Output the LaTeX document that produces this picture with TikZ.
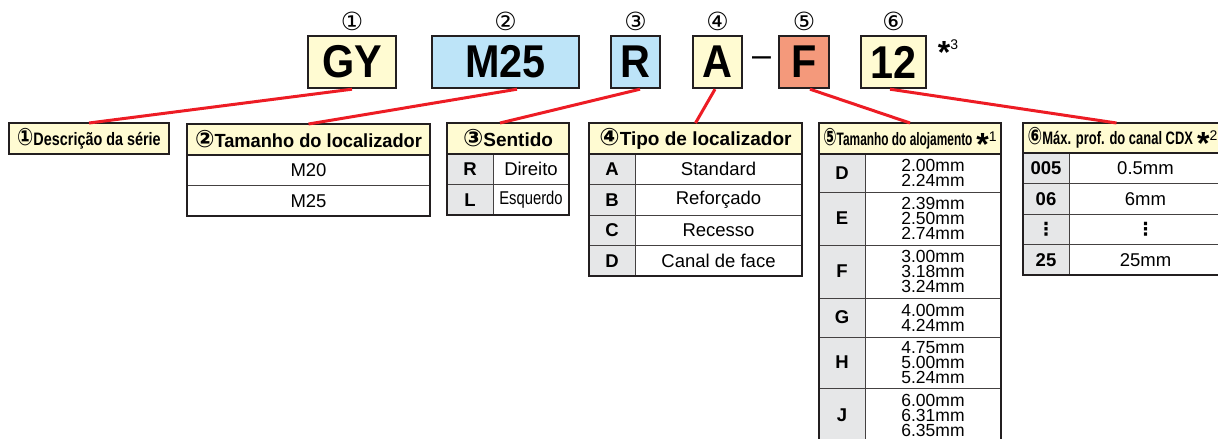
\documentclass[tikz,border=0pt]{standalone}
\usepackage{fontspec}
\usepackage{graphicx}
\setmainfont{Liberation Sans}
\newfontfamily\symfont{DejaVu Sans}
\usetikzlibrary{positioning}
\definecolor{pale}{HTML}{FFFBD2}
\definecolor{sky}{HTML}{BDE4F8}
\definecolor{salmon}{HTML}{F4997B}
\definecolor{keygray}{HTML}{E6E7E8}
\definecolor{ink}{HTML}{231F20}
\definecolor{leadred}{HTML}{ED1C24}
\newcommand{\squeeze}[2]{\scalebox{#1}[1]{#2}}
\newcommand{\circnum}[1]{{\symfont\fontsize{24}{19}\selectfont #1}}
\newcommand{\notemark}[1]{\raisebox{-10pt}[0pt][0pt]{\fontsize{32}{32}\selectfont\bfseries *}\raisebox{4pt}[0pt][0pt]{\fontsize{14}{14}\selectfont\mdseries #1}}
\tikzset{
  codebox/.style={draw=ink, line width=2.4pt, minimum height=52pt, inner sep=0pt, font=\fontsize{46}{46}\selectfont\bfseries},
  codenum/.style={inner sep=0pt, font=\symfont\fontsize{25}{25}\selectfont},
  headcell/.style={draw=ink, line width=1pt, fill=pale, minimum height=31pt, inner sep=0pt, outer sep=0pt, anchor=north west, font=\fontsize{19}{19}\selectfont\bfseries},
  keycell/.style={draw=ink!85, line width=1pt, fill=keygray, minimum width=46pt, minimum height=30.5pt, inner sep=0pt, outer sep=0pt, font=\fontsize{18.5}{18.5}\selectfont\bfseries},
  valcell/.style={draw=ink!85, line width=1pt, minimum height=30.5pt, inner sep=0pt, outer sep=0pt, align=center, font=\fontsize{18.5}{15}\selectfont},
  mmcell/.style={valcell, minimum width=136pt, font=\fontsize{17.5}{15}\selectfont},
  tabframe/.style={draw=ink, line width=2.2pt},
  headline/.style={draw=ink, line width=1.6pt},
  leader/.style={draw=leadred, line width=3pt}
}
\begin{document}
\begin{tikzpicture}[x=1pt, y=-1pt]
  \useasboundingbox (0,0) rectangle (1218,439);

  % part number
  \node[codebox, fill=pale, minimum width=88pt] (ser) at (352,62) {\squeeze{0.9}{GY}};
  \node[codebox, fill=sky, minimum width=147pt] (size) at (505.5,62) {\squeeze{0.9}{M25}};
  \node[codebox, fill=sky, minimum width=49pt] (dir) at (635.5,62) {\squeeze{0.9}{R}};
  \node[codebox, fill=pale, minimum width=49pt] (typ) at (717.5,62) {\squeeze{0.9}{A}};
  \node[font=\fontsize{34}{34}\selectfont] (dash) at (761.5,62) {–};
  \node[codebox, fill=salmon, minimum width=50pt] (hsg) at (804,62) {\squeeze{0.9}{F}};
  \node[codebox, fill=pale, minimum width=65pt] (dep) at (893.5,62) {\squeeze{0.9}{12}};
  \node[anchor=base, inner sep=0pt] (note3) at (948,53) {\notemark{3}};

  \node[codenum] (num1) [above=4pt of ser] {①};
  \node[codenum] (num2) [above=4pt of size] {②};
  \node[codenum] (num3) [above=4pt of dir] {③};
  \node[codenum] (num4) [above=4pt of typ] {④};
  \node[codenum] (num5) [above=4pt of hsg] {⑤};
  \node[codenum] (num6) [above=4pt of dep] {⑥};

  % 1 series
  \node[headcell, minimum width=160pt, font=\fontsize{18}{18}\selectfont\bfseries] (serhd) at (9,123) {\squeeze{0.8}{\circnum{①}Descrição da série}};
  \draw[tabframe] (serhd.north west) rectangle (serhd.south east);

  % 2 locator size
  \node[headcell, minimum width=243pt] (sizehd) at (187,124) {\squeeze{0.96}{\circnum{②}Tamanho do localizador}};
  \node[valcell, minimum width=243pt] (size20) [below=0pt of sizehd] {M20};
  \node[valcell, minimum width=243pt] (size25) [below=0pt of size20] {M25};
  \draw[tabframe] (sizehd.north west) rectangle (size25.south east);
  \draw[headline] (sizehd.south west) -- (sizehd.south east);

  % 3 direction
  \node[headcell, minimum width=122pt] (dirhd) at (447,123) {\circnum{③}Sentido};
  \node[keycell, anchor=north west] (dirR) at (dirhd.south west) {R};
  \node[valcell, minimum width=76pt] (dirRv) [right=0pt of dirR] {Direito};
  \node[keycell] (dirL) [below=0pt of dirR] {L};
  \node[valcell, minimum width=76pt] (dirLv) [right=0pt of dirL] {\squeeze{0.8}{Esquerdo}};
  \draw[tabframe] (dirhd.north west) rectangle (dirLv.south east);
  \draw[headline] (dirhd.south west) -- (dirhd.south east);

  % 4 locator type
  \node[headcell, minimum width=213pt] (typhd) at (589,123) {\circnum{④}Tipo de localizador};
  \node[keycell, anchor=north west] (typA) at (typhd.south west) {A};
  \node[valcell, minimum width=167pt] (typAv) [right=0pt of typA] {Standard};
  \node[keycell] (typB) [below=0pt of typA] {B};
  \node[valcell, minimum width=167pt] (typBv) [right=0pt of typB] {Reforçado};
  \node[keycell] (typC) [below=0pt of typB] {C};
  \node[valcell, minimum width=167pt] (typCv) [right=0pt of typC] {Recesso};
  \node[keycell] (typD) [below=0pt of typC] {D};
  \node[valcell, minimum width=167pt] (typDv) [right=0pt of typD] {Canal de face};
  \draw[tabframe] (typhd.north west) rectangle (typDv.south east);
  \draw[headline] (typhd.south west) -- (typhd.south east);

  % 5 housing size
  \node[headcell, minimum width=182pt, font=\fontsize{18}{18}\selectfont\bfseries] (hsghd) at (819,123) {\squeeze{0.66}{\circnum{⑤}Tamanho do alojamento}\hspace{4pt}\notemark{1}};
  \node[keycell, minimum height=38pt, anchor=north west] (hsgD) at (hsghd.south west) {D};
  \node[mmcell, minimum height=38pt] (hsgDv) [right=0pt of hsgD] {2.00mm\\2.24mm};
  \node[keycell, minimum height=53pt] (hsgE) [below=0pt of hsgD] {E};
  \node[mmcell, minimum height=53pt] (hsgEv) [right=0pt of hsgE] {2.39mm\\2.50mm\\2.74mm};
  \node[keycell, minimum height=53pt] (hsgF) [below=0pt of hsgE] {F};
  \node[mmcell, minimum height=53pt] (hsgFv) [right=0pt of hsgF] {3.00mm\\3.18mm\\3.24mm};
  \node[keycell, minimum height=39pt] (hsgG) [below=0pt of hsgF] {G};
  \node[mmcell, minimum height=39pt] (hsgGv) [right=0pt of hsgG] {4.00mm\\4.24mm};
  \node[keycell, minimum height=51pt] (hsgH) [below=0pt of hsgG] {H};
  \node[mmcell, minimum height=51pt] (hsgHv) [right=0pt of hsgH] {4.75mm\\5.00mm\\5.24mm};
  \node[keycell, minimum height=54pt] (hsgJ) [below=0pt of hsgH] {J};
  \node[mmcell, minimum height=54pt] (hsgJv) [right=0pt of hsgJ] {6.00mm\\6.31mm\\6.35mm};
  \draw[tabframe] (hsghd.north west) rectangle (hsgJv.south east);
  \draw[headline] (hsghd.south west) -- (hsghd.south east);

  % 6 max. depth
  \node[headcell, minimum width=199pt, minimum height=30pt, font=\fontsize{18}{18}\selectfont\bfseries] (dephd) at (1023,123) {\squeeze{0.72}{\circnum{⑥}Máx. prof. do canal CDX}\hspace{4pt}\notemark{2}};
  \node[keycell, anchor=north west] (dep005) at (dephd.south west) {005};
  \node[valcell, minimum width=153pt] (dep005v) [right=0pt of dep005] {0.5mm};
  \node[keycell] (dep06) [below=0pt of dep005] {06};
  \node[valcell, minimum width=153pt] (dep06v) [right=0pt of dep06] {6mm};
  \node[keycell, font=\symfont\bfseries\fontsize{18}{18}\selectfont] (depdots) [below=0pt of dep06] {⋮};
  \node[valcell, minimum width=153pt, font=\symfont\bfseries\fontsize{18}{18}\selectfont] (depdotsv) [right=0pt of depdots] {⋮};
  \node[keycell] (dep25) [below=0pt of depdots] {25};
  \node[valcell, minimum width=153pt] (dep25v) [right=0pt of dep25] {25mm};
  \draw[tabframe] (dephd.north west) rectangle (dep25v.south east);
  \draw[headline] (dephd.south west) -- (dephd.south east);

  % leaders
  \draw[leader] (ser.south) -- (serhd.north);
  \draw[leader] ([xshift=11.5pt]size.south) -- (sizehd.north);
  \draw[leader] ([xshift=4.5pt]dir.south) -- ([xshift=-8pt]dirhd.north);
  \draw[leader] ([xshift=-2.5pt]typ.south) -- (typhd.north);
  \draw[leader] ([xshift=6pt]hsg.south) -- (hsghd.north);
  \draw[leader] ([xshift=-3.5pt]dep.south) -- ([xshift=-6pt]dephd.north);
\end{tikzpicture}
\end{document}
